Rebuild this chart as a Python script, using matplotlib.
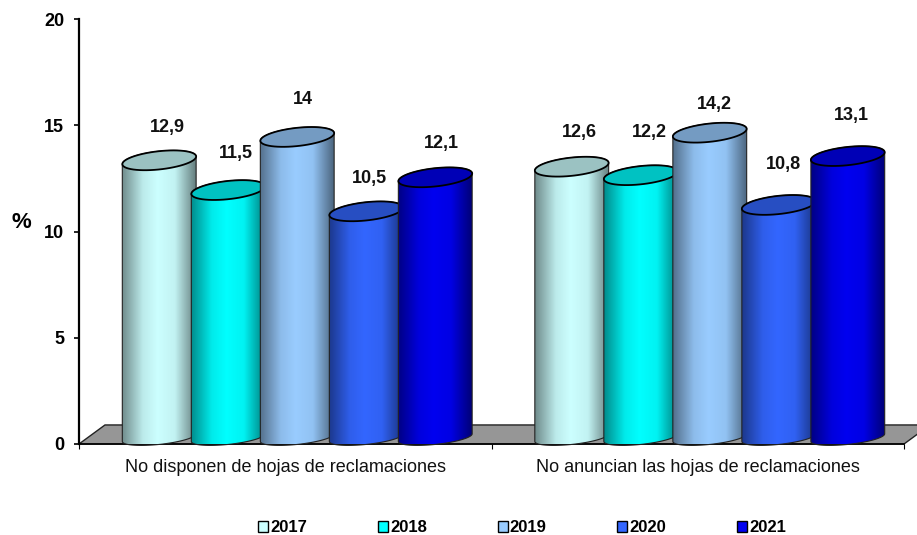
import numpy as np
import matplotlib
matplotlib.use("Agg")
import matplotlib.pyplot as plt
from matplotlib.colors import LinearSegmentedColormap
from matplotlib.patches import Patch, PathPatch, Polygon
from matplotlib.path import Path

plt.rcParams["font.family"] = ["Liberation Sans", "DejaVu Sans"]

categories = ["No disponen de hojas de reclamaciones", "No anuncian las hojas de reclamaciones"]
years = ["2017", "2018", "2019", "2020", "2021"]
values = [
    [12.9, 11.5, 14.0, 10.5, 12.1],
    [12.6, 12.2, 14.2, 10.8, 13.1],
]
labels = [
    ["12,9", "11,5", "14", "10,5", "12,1"],
    ["12,6", "12,2", "14,2", "10,8", "13,1"],
]
colors = ["#CCFFFF", "#00FFFF", "#99CCFF", "#3366FF", "#0000F0"]
y_ticks = [0, 5, 10, 15, 20]

# pixel nudges of the value labels, they are placed by hand in the original
nudges = [
    [(8, 33), (8, 37), (6, 37), (3, 33), (6, 34)],
    [(8, 34), (9, 43), (5, 28), (5, 40), (4, 41)],
]

W, H = 917, 535
fig = plt.figure(figsize=(W / 100, H / 100), dpi=100)
ax = fig.add_axes([79 / W, 1 - 444 / H, 825 / W, 425 / H])
ax.set_xlim(0, 2)
ax.set_ylim(0, 20)

# 3d look of the chart
depth_x, depth_y = 0.063, 0.896
bar_w = 0.179
bar_step = 0.1673
first_bar = 0.1945
base = 0.45
ell_b = 0.43
ell_tilt = 0.18
foot_y = 0.3
foot_b = 0.32


def ellipse(cx, cy, start, stop, b=ell_b, n=60):
    t = np.linspace(start, stop, n)
    return np.column_stack([
        cx + bar_w / 2 * np.cos(t),
        cy + b * np.sin(t) + ell_tilt * np.cos(t),
    ])


def shade(color, stops, name):
    rgb = np.array(matplotlib.colors.to_rgb(color))
    return LinearSegmentedColormap.from_list(name, [(p, tuple(rgb * k)) for p, k in stops])


floor = Polygon(
    [(0, 0), (depth_x, depth_y), (2 + depth_x, depth_y), (2, 0)],
    facecolor="#969696", edgecolor="#222222", lw=1, clip_on=False, zorder=1,
)
ax.add_patch(floor)

body_stops = [(0, 0.55), (0.28, 0.92), (0.48, 1.0), (0.72, 0.95), (1, 0.5)]
z = 2
for g in range(len(categories)):
    for i, val in enumerate(values[g]):
        cx = g + first_bar + i * bar_step
        top = val + base
        cmap = shade(colors[i], body_stops, f"c{g}{i}")

        # body: down the left side, round the bottom, back over the top
        bottom_pts = ellipse(cx, foot_y, np.pi, 2 * np.pi, b=foot_b)
        top_pts = ellipse(cx, top, 0, np.pi)
        pts = np.vstack([bottom_pts, top_pts, bottom_pts[:1]])
        body = PathPatch(Path(pts), facecolor="none", edgecolor="#222222", lw=0.8,
                         clip_on=False, zorder=z + 0.2)
        ax.add_patch(body)
        im = ax.imshow(
            np.linspace(0, 1, 128).reshape(1, -1), cmap=cmap, aspect="auto",
            extent=(cx - bar_w / 2, cx + bar_w / 2, 0, top + 1), zorder=z,
        )
        im.set_clip_path(Path(pts), ax.transData)

        lid = Polygon(ellipse(cx, top, 0, 2 * np.pi), closed=True,
                      facecolor=np.array(matplotlib.colors.to_rgb(colors[i])) * 0.76,
                      edgecolor="black", lw=1.3, clip_on=False, zorder=z + 0.3)
        ax.add_patch(lid)

        dx, dy = nudges[g][i]
        ax.annotate(labels[g][i], (cx, top), xytext=(dx, dy), textcoords="offset pixels",
                    ha="center", va="center", fontsize=13, fontweight="bold",
                    color="#111111", zorder=30)
        z += 1

ax.set_xlim(0, 2)
ax.set_ylim(0, 20)

for side in ["top", "right"]:
    ax.spines[side].set_visible(False)
ax.spines["left"].set_linewidth(1.6)
ax.spines["bottom"].set_linewidth(1.2)
ax.spines["bottom"].set_zorder(1.5)

ax.set_yticks(y_ticks)
ax.set_yticklabels([str(v) for v in y_ticks], fontsize=13, fontweight="bold")
ax.tick_params(axis="y", length=3.6, width=1.2, pad=7)
ax.set_xticks([0, 1, 2])
ax.set_xticklabels([])
ax.tick_params(axis="x", which="major", length=3.6, width=0.8)
ax.set_xticks([0.5, 1.5], minor=True)
ax.set_xticklabels(categories, minor=True, fontsize=13, color="#111111")
ax.tick_params(axis="x", which="minor", length=0, pad=11)

ax.set_ylabel("%", fontsize=16, fontweight="bold", rotation=0, va="center")
ax.yaxis.set_label_coords(-58 / 825, (444 - 222) / 425)

handles = [Patch(facecolor=c, edgecolor="black", lw=1) for c in colors]
fig.legend(handles, years, ncol=5, frameon=False, loc="center", bbox_to_anchor=(522 / W, 1 - 528 / H),
           prop={"size": 12, "weight": "bold"}, handlelength=0.6, handleheight=0.6,
           handletextpad=0.13, columnspacing=4.24)

fig.savefig("out.png", dpi=100)
plt.close(fig)
